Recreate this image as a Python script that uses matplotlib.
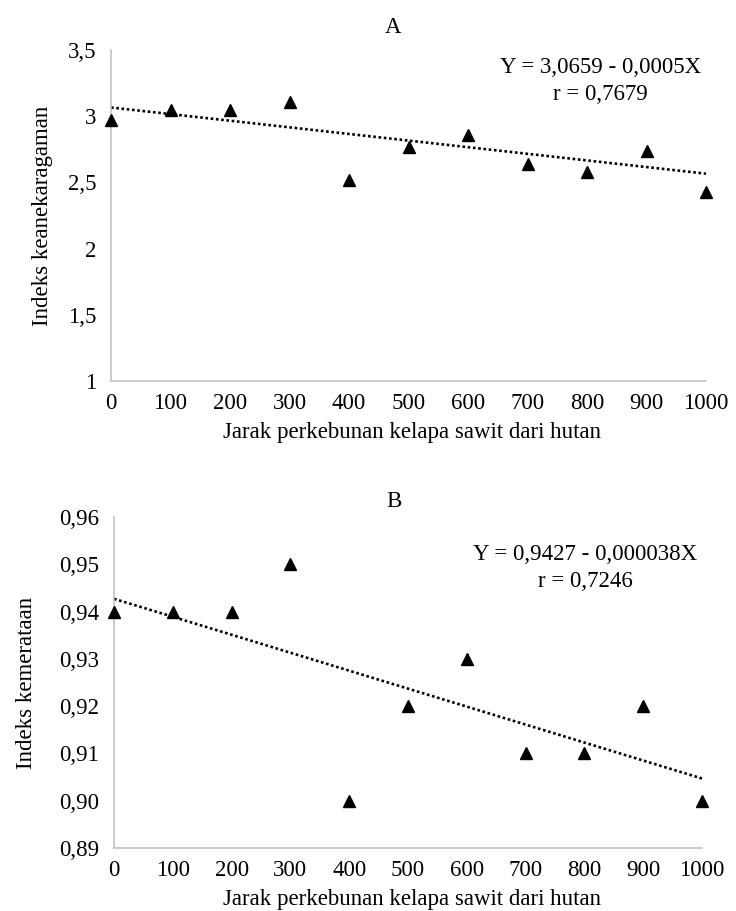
import matplotlib
matplotlib.use("Agg")
import matplotlib.pyplot as plt
import numpy as np

plt.rcParams['font.family'] = ['Liberation Serif', 'DejaVu Serif']

# Data
jarak = [0, 100, 200, 300, 400, 500, 600, 700, 800, 900, 1000]
keanekaragaman = [2.97, 3.05, 3.05, 3.11, 2.52, 2.77, 2.86, 2.64, 2.58, 2.74, 2.43]
kemerataan = [0.94, 0.94, 0.94, 0.95, 0.90, 0.92, 0.93, 0.91, 0.91, 0.92, 0.90]

a_intercept, a_slope = 3.0659, -0.0005
b_intercept, b_slope = 0.9427, -0.000038

a_eq = ["Y = 3,0659 - 0,0005X", "r = 0,7679"]
b_eq = ["Y = 0,9427 - 0,000038X", "r = 0,7246"]

a_yticks = [1, 1.5, 2, 2.5, 3, 3.5]
a_yticklabels = ["1", "1,5", "2", "2,5", "3", "3,5"]
b_yticks = [0.89, 0.90, 0.91, 0.92, 0.93, 0.94, 0.95, 0.96]
b_yticklabels = ["0,89", "0,90", "0,91", "0,92", "0,93", "0,94", "0,95", "0,96"]
xticks = [0, 100, 200, 300, 400, 500, 600, 700, 800, 900, 1000]

xlabel = "Jarak perkebunan kelapa sawit dari hutan"

fig = plt.figure(figsize=(7.36, 9.11), dpi=100)
W, H = 736, 911

def make_ax(l, r, b, t):
    return fig.add_axes([l / W, 1 - b / H, (r - l) / W, (b - t) / H])

def ftext(x, y, s, **kw):
    fig.text(x / W, 1 - y / H, s, fontsize=FS, **kw)

axA = make_ax(111, 706, 381, 50)
axB = make_ax(114, 702, 848, 517)

FS = 16.5
grey = '#bfbfbf'

def style(ax, ylim, yticks, yticklabels):
    ax.set_xlim(0, 1000)
    ax.set_ylim(*ylim)
    ax.set_xticks(xticks)
    ax.set_xticklabels([str(x) for x in xticks], fontsize=FS)
    ax.set_yticks(yticks)
    ax.set_yticklabels(yticklabels, fontsize=FS)
    ax.tick_params(axis='x', length=0, pad=8.5)
    ax.tick_params(axis='y', length=0, pad=10.5)
    for s in ['top', 'right']:
        ax.spines[s].set_visible(False)
    for s in ['left', 'bottom']:
        ax.spines[s].set_color(grey)
        ax.spines[s].set_linewidth(1.1)

x_line = np.array([jarak[0], jarak[-1]])

# Panel A
style(axA, (1, 3.5), a_yticks, a_yticklabels)
axA.plot(x_line, a_intercept + a_slope * x_line, linestyle=(0, (1, 1)), color='black', linewidth=1.9)
axA.plot(jarak, keanekaragaman, linestyle='none', marker='^', color='black', markersize=8.5, clip_on=False, zorder=5)
ftext(393, 33, "A", ha='center', va='baseline')
ftext(601, 73, a_eq[0], ha='center', va='baseline')
ftext(600, 100, a_eq[1], ha='center', va='baseline')
ftext(412, 438, xlabel, ha='center', va='baseline')
ftext(48.5, 215.5, "Indeks keanekaragaman", ha='center', va='baseline', rotation=90, rotation_mode='anchor')

# Panel B
style(axB, (0.89, 0.96), b_yticks, b_yticklabels)
axB.plot(x_line, b_intercept + b_slope * x_line, linestyle=(0, (1, 1)), color='black', linewidth=1.9)
axB.plot(jarak, kemerataan, linestyle='none', marker='^', color='black', markersize=8.5, clip_on=False, zorder=5)
ftext(394, 507, "B", ha='center', va='baseline')
ftext(585, 560, b_eq[0], ha='center', va='baseline')
ftext(585, 587, b_eq[1], ha='center', va='baseline')
ftext(412, 905, xlabel, ha='center', va='baseline')
ftext(32, 682.5, "Indeks kemerataan", ha='center', va='baseline', rotation=90, rotation_mode='anchor')

fig.savefig("out.png", dpi=100)
